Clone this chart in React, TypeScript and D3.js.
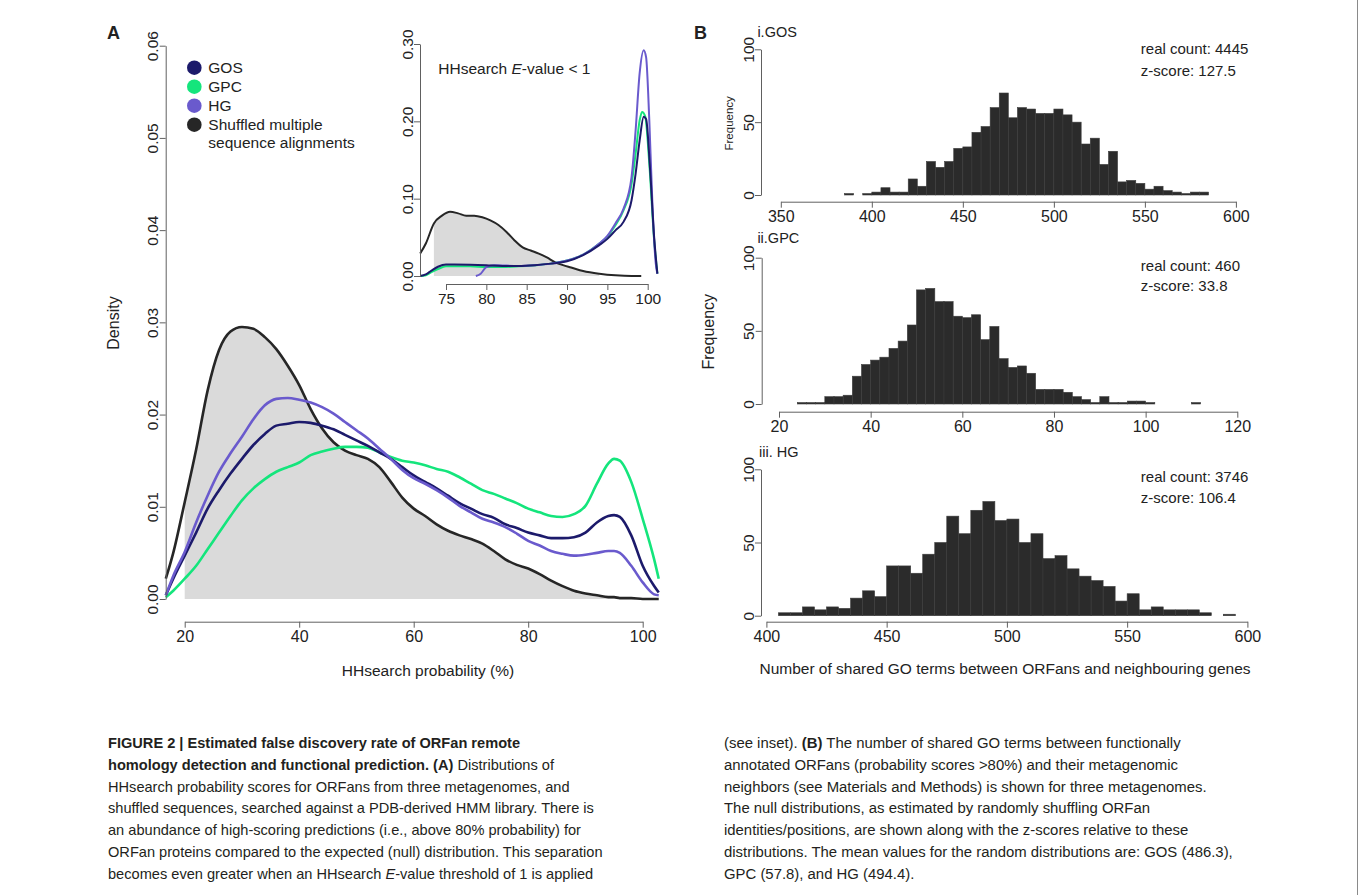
import React, { useRef, useEffect } from 'react';
import * as d3 from 'd3';

const FONT = '"Liberation Sans", Arial, Helvetica, sans-serif';
const INK = '#222';
const AXIS = '#606060';

// series colours
const C_GOS = '#1c1a6b';
const C_GPC = '#14e57c';
const C_HG = '#6a5acd';
const C_SHUF = '#262626';
const C_FILL = '#dadada';
const C_BAR = '#2b2b2b';

// ---- panel A, main densities (HHsearch probability %) ----
const MAIN_X = [16.7, 18, 20, 22, 24, 26, 28, 30, 32, 34, 36, 38, 40, 42, 44, 46, 48, 50, 52, 54, 56, 58, 60,
  62, 64, 66, 68, 70, 72, 74, 76, 78, 80, 82, 84, 86, 88, 90, 92, 94, 95, 96, 98, 100, 102, 102.8];
const SHUF_MAIN = [0.0022, 0.0050, 0.0105, 0.0162, 0.0226, 0.0270, 0.0290, 0.0295, 0.0293, 0.0284, 0.0271, 0.0253,
  0.0232, 0.0206, 0.0185, 0.0170, 0.0161, 0.0156, 0.0152, 0.0143, 0.0127, 0.0110, 0.0098, 0.0090, 0.0081, 0.0074,
  0.0069, 0.0065, 0.0060, 0.0052, 0.0043, 0.0037, 0.0033, 0.0027, 0.0020, 0.0014, 0.0009, 0.0006, 0.0004, 0.0002,
  0.0002, 0.0001, 0.0001, 0, 0, 0];
const GOS_MAIN = [0.0004, 0.0022, 0.0047, 0.0072, 0.0098, 0.0118, 0.0136, 0.0152, 0.0167, 0.0179, 0.0188, 0.0190,
  0.0192, 0.0191, 0.0188, 0.0184, 0.0178, 0.0172, 0.0166, 0.0159, 0.0152, 0.0143, 0.0134, 0.0127, 0.0120, 0.0112,
  0.0104, 0.0098, 0.0092, 0.0088, 0.0081, 0.0077, 0.0072, 0.0069, 0.0066, 0.0066, 0.0067, 0.0072, 0.0083, 0.0090,
  0.0091, 0.0089, 0.0069, 0.0036, 0.0014, 0.0007];
const GPC_MAIN = [0.0002, 0.0009, 0.0022, 0.0036, 0.0054, 0.0072, 0.0090, 0.0107, 0.0120, 0.0130, 0.0138, 0.0143,
  0.0148, 0.0156, 0.0160, 0.0163, 0.0165, 0.0165, 0.0164, 0.0159, 0.0154, 0.0150, 0.0148, 0.0145, 0.0141, 0.0138,
  0.0132, 0.0125, 0.0118, 0.0114, 0.0109, 0.0104, 0.0098, 0.0094, 0.0090, 0.0089, 0.0092, 0.0101, 0.0125, 0.0147,
  0.0152, 0.0150, 0.0127, 0.0087, 0.0043, 0.0022];
const HG_MAIN = [0.0004, 0.0025, 0.0051, 0.0083, 0.0112, 0.0138, 0.0158, 0.0176, 0.0195, 0.0210, 0.0217, 0.0218,
  0.0216, 0.0213, 0.0208, 0.0201, 0.0192, 0.0183, 0.0174, 0.0163, 0.0152, 0.0140, 0.0131, 0.0125, 0.0118, 0.0110,
  0.0101, 0.0094, 0.0087, 0.0083, 0.0078, 0.0071, 0.0063, 0.0058, 0.0052, 0.0049, 0.0047, 0.0048, 0.0050, 0.0052,
  0.0052, 0.0050, 0.0036, 0.0018, 0.0005, 0.0004];
const MAIN_X_TICKS = [20, 40, 60, 80, 100];
const MAIN_Y_TICKS = [0, 0.01, 0.02, 0.03, 0.04, 0.05, 0.06];

// ---- panel A, inset (E-value < 1) ----
const SHUF_IN_X = [71.8, 72.5, 73.5, 74.5, 75.5, 76.5, 77.5, 78.5, 79.5, 80.5, 81.5, 82.5, 83.5, 84.5, 85.5, 86.5,
  87.5, 88.5, 89.5, 90.5, 92, 94, 96, 98, 99.2];
const SHUF_IN = [0.029, 0.042, 0.068, 0.078, 0.083, 0.081, 0.078, 0.078, 0.076, 0.072, 0.066, 0.057, 0.046, 0.037,
  0.033, 0.029, 0.024, 0.018, 0.014, 0.011, 0.0065, 0.003, 0.0009, 0, 0];
const GOS_IN_X = [71.8, 72.5, 73.2, 74, 75, 76, 78, 80, 82, 84, 86, 88, 90, 92, 94, 95, 96, 97, 98, 98.5, 99, 99.5,
  99.8, 100.3, 100.8, 101.2];
const GOS_IN = [0, 0.002, 0.007, 0.012, 0.015, 0.015, 0.0147, 0.014, 0.013, 0.013, 0.014, 0.016, 0.019, 0.027,
  0.040, 0.048, 0.059, 0.070, 0.098, 0.132, 0.175, 0.206, 0.203, 0.137, 0.050, 0.003];
const GPC_IN_X = [71.8, 72.5, 73.2, 74, 75, 76, 78, 80, 82, 84, 86, 88, 90, 92, 94, 95, 96, 97, 98, 98.5, 99, 99.3,
  99.7, 100.2, 100.8, 101.2];
const GPC_IN = [0, 0.001, 0.005, 0.009, 0.0125, 0.0125, 0.0125, 0.0116, 0.0116, 0.0125, 0.014, 0.016, 0.020, 0.0276,
  0.042, 0.051, 0.0655, 0.085, 0.119, 0.158, 0.201, 0.212, 0.206, 0.145, 0.046, 0.003];
const HG_IN_X = [78.7, 79.3, 80, 81, 84, 86, 88, 90, 92, 94, 95, 96, 97, 98, 98.5, 99, 99.5, 99.8, 100.2, 100.6,
  101, 101.2];
const HG_IN = [0, 0.003, 0.0116, 0.014, 0.013, 0.014, 0.016, 0.020, 0.0276, 0.042, 0.052, 0.068, 0.087, 0.128,
  0.188, 0.262, 0.292, 0.283, 0.201, 0.089, 0.016, 0.003];
const IN_X_TICKS = [75, 80, 85, 90, 95, 100];
const IN_Y_TICKS = [0, 0.1, 0.2, 0.3];

const LEGEND = ['GOS', 'GPC', 'HG', 'Shuffled multiple'];
const LEGEND_COLORS = [C_GOS, C_GPC, C_HG, C_SHUF];

// ---- panel B, null distributions of shared GO terms ----
const GOS_BIN0 = 385;
const GOS_BINW = 5;
const GOS_COUNTS = [1, 0, 1, 2, 5, 2, 2, 11, 6, 23, 19, 23, 32, 33, 43, 47, 60, 70, 53, 60, 59, 56, 56, 59, 55, 50,
  35, 39, 21, 30, 9, 10, 8, 4, 6, 3, 2, 1, 2, 2];
const GOS_TICKS = [350, 400, 450, 500, 550, 600];

const GPC_BIN0 = 24;
const GPC_BINW = 2;
const GPC_COUNTS = [1, 1, 1, 5, 5, 6, 19, 27, 30, 32, 38, 43, 54, 78, 79, 70, 70, 60, 59, 61, 44, 53, 31, 25, 26, 21,
  10, 10, 10, 8, 5, 3, 1, 5, 1, 1, 2, 2, 1, 0, 0, 0, 0, 1];
const GPC_TICKS = [20, 40, 60, 80, 100, 120];

const HG_BIN0 = 405;
const HG_BINW = 5;
const HG_COUNTS = [2, 2, 6, 4, 6, 5, 12, 17, 13, 34, 34, 29, 42, 50, 68, 56, 72, 78, 65, 66, 50, 56, 39, 41, 32, 27,
  24, 20, 10, 15, 4, 6, 4, 4, 4, 2, 0, 1];
const HG_TICKS = [400, 450, 500, 550, 600];

const FREQ_TICKS = [0, 50, 100];

const CAPTION_LEFT = [
  [{ t: 'FIGURE 2 | Estimated false discovery rate of ORFan remote', b: true }],
  [{ t: 'homology detection and functional prediction. (A)', b: true }, { t: ' Distributions of' }],
  [{ t: 'HHsearch probability scores for ORFans from three metagenomes, and' }],
  [{ t: 'shuffled sequences, searched against a PDB-derived HMM library. There is' }],
  [{ t: 'an abundance of high-scoring predictions (i.e., above 80% probability) for' }],
  [{ t: 'ORFan proteins compared to the expected (null) distribution. This separation' }],
  [{ t: 'becomes even greater when an HHsearch ' }, { t: 'E', i: true }, { t: '-value threshold of 1 is applied' }],
];
const CAPTION_RIGHT = [
  [{ t: '(see inset). ' }, { t: '(B)', b: true }, { t: ' The number of shared GO terms between functionally' }],
  [{ t: 'annotated ORFans (probability scores >80%) and their metagenomic' }],
  [{ t: 'neighbors (see Materials and Methods) is shown for three metagenomes.' }],
  [{ t: 'The null distributions, as estimated by randomly shuffling ORFan' }],
  [{ t: 'identities/positions, are shown along with the z-scores relative to these' }],
  [{ t: 'distributions. The mean values for the random distributions are: GOS (486.3),' }],
  [{ t: 'GPC (57.8), and HG (494.4).' }],
];

// R-like axes: line only between first and last tick
function axisBottom(svg, scale, ticks, y, fontSize) {
  const s = d3.scaleLinear().domain([ticks[0], ticks[ticks.length - 1]])
    .range([scale(ticks[0]), scale(ticks[ticks.length - 1])]);
  const g = svg.append('g')
    .attr('transform', `translate(0,${y})`)
    .call(d3.axisBottom(s).tickValues(ticks).tickSize(6).tickSizeOuter(0).tickPadding(3).tickFormat(d3.format('d')));
  g.selectAll('path, line').attr('stroke', AXIS);
  g.selectAll('text').attr('font-size', fontSize).attr('font-family', FONT).attr('fill', INK);
  g.attr('font-size', null).attr('font-family', null);
  return g;
}

function axisLeft(svg, scale, ticks, x, fmt, fontSize) {
  const s = d3.scaleLinear().domain([ticks[0], ticks[ticks.length - 1]])
    .range([scale(ticks[0]), scale(ticks[ticks.length - 1])]);
  const g = svg.append('g')
    .attr('transform', `translate(${x},0)`)
    .call(d3.axisLeft(s).tickValues(ticks).tickSize(6).tickSizeOuter(0).tickFormat(fmt));
  g.selectAll('path, line').attr('stroke', AXIS);
  g.selectAll('.tick text')
    .attr('x', 0)
    .attr('dy', null)
    .attr('text-anchor', 'middle')
    .attr('transform', 'translate(-7.5,0) rotate(-90)')
    .attr('font-size', fontSize)
    .attr('font-family', FONT)
    .attr('fill', INK);
  g.attr('font-size', null).attr('font-family', null);
  return g;
}

function label(svg, x, y, text, size, opts = {}) {
  const t = svg.append('text')
    .attr('x', x)
    .attr('y', y)
    .attr('font-family', FONT)
    .attr('font-size', size)
    .attr('fill', INK)
    .attr('dominant-baseline', 'central')
    .attr('text-anchor', opts.anchor || 'start')
    .text(text);
  if (opts.bold) t.attr('font-weight', 'bold');
  if (opts.rotate) t.attr('transform', `rotate(-90,${x},${y})`);
  return t;
}

function histogram(svg, x, y, bin0, binw, counts) {
  svg.append('g')
    .selectAll('rect')
    .data(counts)
    .join('rect')
    .attr('x', (d, i) => x(bin0 + i * binw))
    .attr('width', (d, i) => x(bin0 + (i + 1) * binw) - x(bin0 + i * binw))
    .attr('y', (d) => y(d))
    .attr('height', (d) => y(0) - y(d))
    .attr('fill', C_BAR)
    .attr('stroke', '#3c3c3c')
    .attr('stroke-width', 0.6);
}

const App = () => {
  const chartRef = useRef(null);

  useEffect(() => {
    const svg = d3.select(chartRef.current);
    svg.selectAll('*').remove();

    // ===== panel A main =====
    const xMain = d3.scaleLinear().domain([20, 100]).range([184.7, 642.7]);
    const yMain = d3.scaleLinear().domain([0, 0.06]).range([599, 45.7]);

    const mainFill = MAIN_X.map((v, i) => [v, SHUF_MAIN[i]]).filter((d) => d[0] >= 20 && d[0] <= 100);
    svg.append('path')
      .datum(mainFill)
      .attr('fill', C_FILL)
      .attr('d', d3.area().x((d) => xMain(d[0])).y0(yMain(0)).y1((d) => yMain(d[1])).curve(d3.curveMonotoneX));

    const lineMain = d3.line().x((d) => xMain(d[0])).y((d) => yMain(d[1])).curve(d3.curveMonotoneX);
    [[SHUF_MAIN, C_SHUF], [GPC_MAIN, C_GPC], [GOS_MAIN, C_GOS], [HG_MAIN, C_HG]].forEach(([vals, col]) => {
      svg.append('path')
        .datum(MAIN_X.map((v, i) => [v, vals[i]]))
        .attr('fill', 'none')
        .attr('stroke', col)
        .attr('stroke-width', 2.6)
        .attr('d', lineMain);
    });

    axisBottom(svg, xMain, MAIN_X_TICKS, 621.7, 16);
    axisLeft(svg, yMain, MAIN_Y_TICKS, 165.7, d3.format('.2f'), 15.5);
    label(svg, 428, 670, 'HHsearch probability (%)', 15.5, { anchor: 'middle' });
    label(svg, 113, 323, 'Density', 16, { anchor: 'middle', rotate: true });
    label(svg, 107, 33, 'A', 18, { bold: true });

    // legend
    LEGEND.forEach((name, i) => {
      const cy = 67.7 + i * 19;
      svg.append('circle').attr('cx', 194.3).attr('cy', cy).attr('r', 7.3).attr('fill', LEGEND_COLORS[i]);
      label(svg, 208.3, cy, name, 15.5);
    });
    label(svg, 208.3, 67.7 + 4 * 18.6, 'sequence alignments', 15.5);

    // ===== panel A inset =====
    const xIn = d3.scaleLinear().domain([75, 100]).range([446, 647.7]);
    const yIn = d3.scaleLinear().domain([0, 0.3]).range([276, 44]);

    const inFill = SHUF_IN_X.map((v, i) => [v, SHUF_IN[i]]).filter((d) => d[0] >= 73.5 && d[0] <= 94);
    svg.append('path')
      .datum(inFill)
      .attr('fill', C_FILL)
      .attr('d', d3.area().x((d) => xIn(d[0])).y0(yIn(0)).y1((d) => yIn(d[1])).curve(d3.curveMonotoneX));

    const lineIn = d3.line().x((d) => xIn(d[0])).y((d) => yIn(d[1])).curve(d3.curveMonotoneX);
    [[SHUF_IN_X, SHUF_IN, C_SHUF], [GPC_IN_X, GPC_IN, C_GPC], [HG_IN_X, HG_IN, C_HG], [GOS_IN_X, GOS_IN, C_GOS]]
      .forEach(([xs, vals, col]) => {
        svg.append('path')
          .datum(xs.map((v, i) => [v, vals[i]]))
          .attr('fill', 'none')
          .attr('stroke', col)
          .attr('stroke-width', 2)
          .attr('d', lineIn);
      });

    axisBottom(svg, xIn, IN_X_TICKS, 284, 15.5);
    axisLeft(svg, yIn, IN_Y_TICKS, 420, d3.format('.2f'), 15.5);
    const inTitle = svg.append('text')
      .attr('x', 438.3).attr('y', 68.3)
      .attr('font-family', FONT).attr('font-size', 15.5).attr('fill', INK)
      .attr('dominant-baseline', 'central');
    inTitle.append('tspan').text('HHsearch ');
    inTitle.append('tspan').attr('font-style', 'italic').text('E');
    inTitle.append('tspan').text('-value < 1');

    // ===== panel B =====
    label(svg, 694, 33, 'B', 18, { bold: true });

    // i. GOS
    const xGos = d3.scaleLinear().domain([350, 600]).range([780.8, 1235.9]);
    const yGos = d3.scaleLinear().domain([0, 100]).range([195, 49.3]);
    histogram(svg, xGos, yGos, GOS_BIN0, GOS_BINW, GOS_COUNTS);
    axisBottom(svg, xGos, GOS_TICKS, 201.7, 16);
    axisLeft(svg, yGos, FREQ_TICKS, 761, d3.format('d'), 15.5);
    label(svg, 757.4, 31.7, 'i.GOS', 14.5);
    label(svg, 728.7, 123.3, 'Frequency', 11.5, { anchor: 'middle', rotate: true });
    label(svg, 1140.8, 48.3, 'real count: 4445', 15);
    label(svg, 1140.8, 70, 'z-score: 127.5', 15);

    // ii. GPC
    const xGpc = d3.scaleLinear().domain([20, 120]).range([779, 1237.3]);
    const yGpc = d3.scaleLinear().domain([0, 100]).range([404, 257.7]);
    histogram(svg, xGpc, yGpc, GPC_BIN0, GPC_BINW, GPC_COUNTS);
    axisBottom(svg, xGpc, GPC_TICKS, 411.7, 16);
    axisLeft(svg, yGpc, FREQ_TICKS, 761.7, d3.format('d'), 15.5);
    label(svg, 757.4, 238.3, 'ii.GPC', 14.5);
    label(svg, 709, 331.7, 'Frequency', 16, { anchor: 'middle', rotate: true });
    label(svg, 1140.8, 265, 'real count: 460', 15);
    label(svg, 1140.8, 285, 'z-score: 33.8', 15);

    // iii. HG
    const xHg = d3.scaleLinear().domain([400, 600]).range([766.4, 1247.4]);
    const yHg = d3.scaleLinear().domain([0, 100]).range([615.7, 469.3]);
    histogram(svg, xHg, yHg, HG_BIN0, HG_BINW, HG_COUNTS);
    axisBottom(svg, xHg, HG_TICKS, 621.7, 16);
    axisLeft(svg, yHg, FREQ_TICKS, 761, d3.format('d'), 15.5);
    label(svg, 759, 451.7, 'iii. HG', 14.5);
    label(svg, 1140.8, 476.7, 'real count: 3746', 15);
    label(svg, 1140.8, 497.3, 'z-score: 106.4', 15);
    label(svg, 1005, 668.3, 'Number of shared GO terms between ORFans and neighbouring genes', 15.5, { anchor: 'middle' });

    // ===== caption =====
    const caption = (lines, x0, size) => {
      lines.forEach((segs, li) => {
        const t = svg.append('text')
          .attr('x', x0)
          .attr('y', 743 + li * 21.8)
          .attr('font-family', FONT)
          .attr('font-size', size)
          .attr('fill', '#231f20')
          .attr('dominant-baseline', 'central');
        segs.forEach((s) => {
          const sp = t.append('tspan').text(s.t);
          if (s.b) sp.attr('font-weight', 'bold');
          if (s.i) sp.attr('font-style', 'italic');
        });
      });
    };
    caption(CAPTION_LEFT, 108, 14.6);
    caption(CAPTION_RIGHT, 724, 14.9);

    // thin frame line at the right edge
    svg.append('line')
      .attr('x1', 1357.5).attr('x2', 1357.5).attr('y1', 0).attr('y2', 895)
      .attr('stroke', '#8a8a8a').attr('stroke-width', 1);
  }, []);

  return (
    <svg
      ref={chartRef}
      width={1360}
      height={895}
      style={{ position: 'absolute', left: 0, top: 0, background: '#fff' }}
    />
  );
};

export default App;
